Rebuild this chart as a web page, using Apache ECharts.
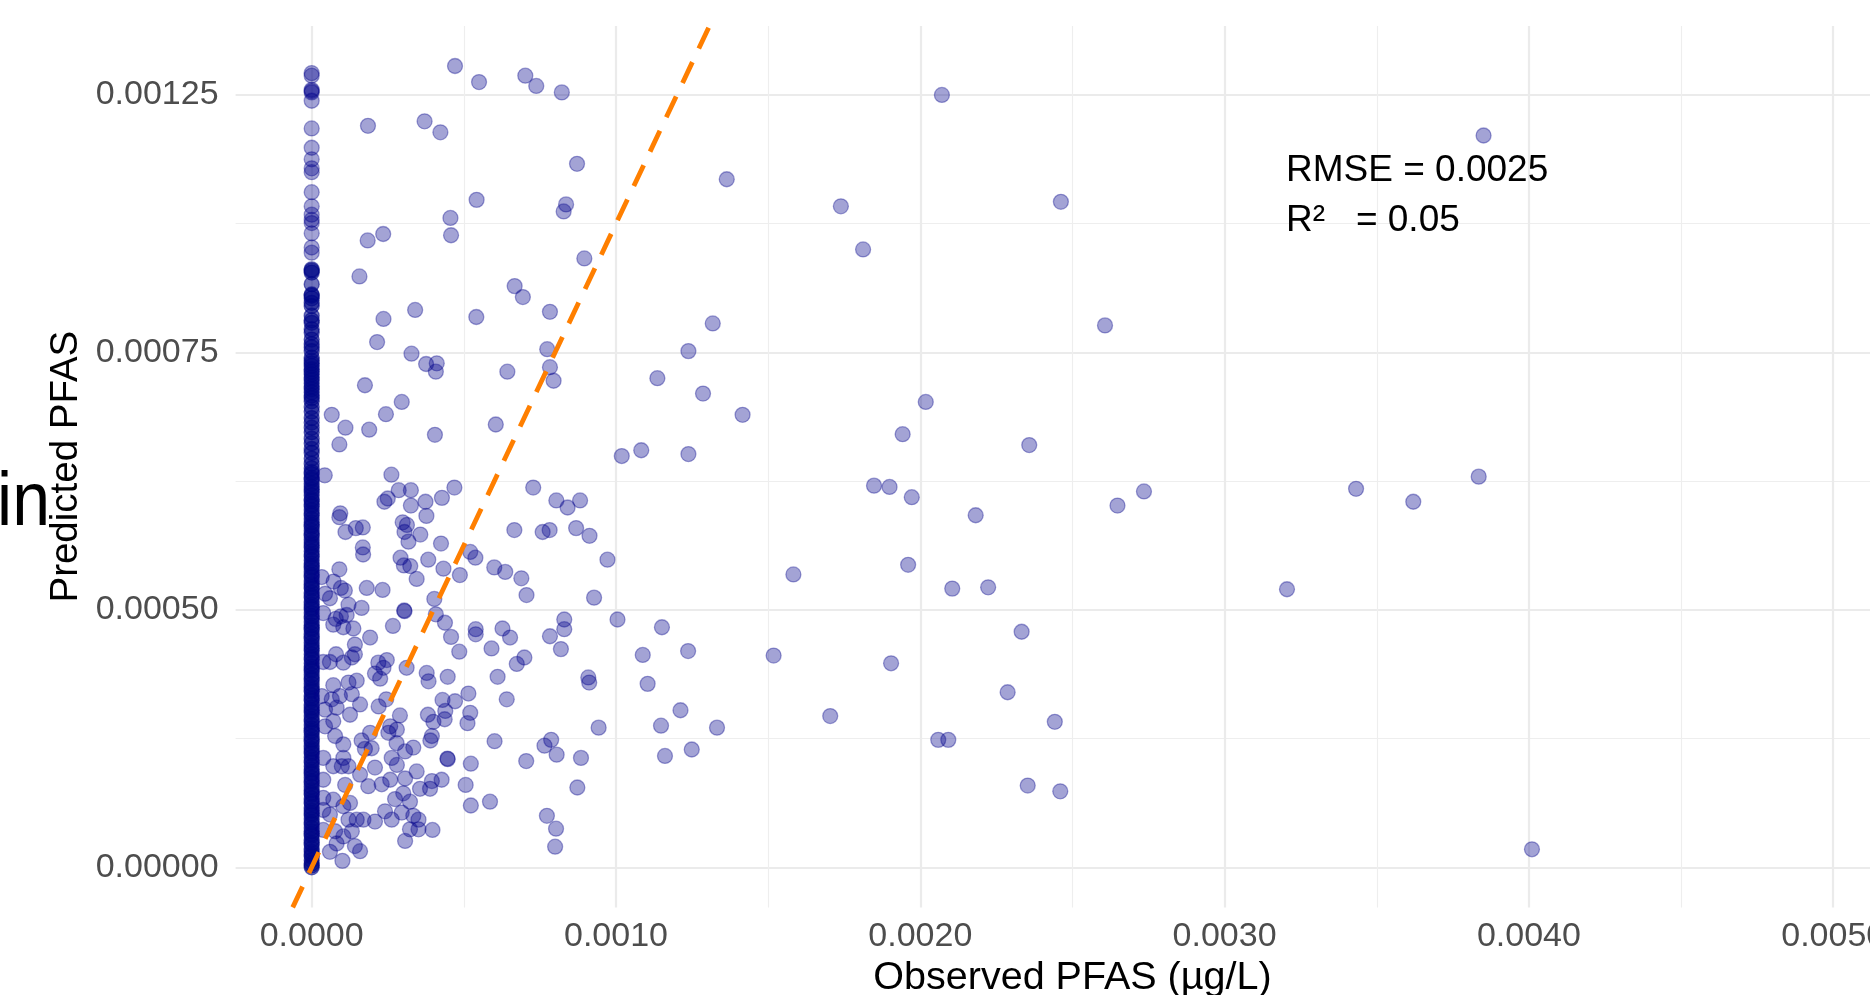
<!DOCTYPE html>
<html>
<head>
<meta charset="utf-8">
<script src="https://cdn.jsdelivr.net/npm/echarts@6/dist/echarts.min.js"></script>
<style>
  html, body { margin: 0; padding: 0; background: #fff; }
  #chart { width: 1870px; height: 995px; }
</style>
</head>
<body>
<div id="chart"></div>
<script>
// all PFAS values below are in units of 1e-4 ug/L
const UNIT = 1e-4;

// axis ticks
const xMajor = [0, 10, 20, 30, 40, 50];
const xMinor = [5, 15, 25, 35, 45];
const xTickLabels = ['0.0000', '0.0010', '0.0020', '0.0030', '0.0040', '0.0050'];
const yMajor = [0, 4, 8, 12];
const yMinor = [2, 6, 10];
const yTickLabels = ['0.00000', '0.00050', '0.00075', '0.00125'];

// predicted values for sites with observed = 0 (the column on the left)
const zeroObsPred = [
  12.34, 12.30, 12.08, 12.06, 12.04, 11.91, 11.48, 11.18, 11.00, 10.86, 10.80, 10.49,
  10.27, 10.14, 10.06, 10.01, 9.85, 9.63, 9.55, 9.29, 9.27, 9.24, 9.06, 8.90, 8.88,
  8.84, 8.77, 8.72, 8.57, 8.50, 8.46, 8.36, 8.31, 8.20, 8.13, 8.08, 8.02, 7.92, 7.87,
  7.83, 7.79, 7.74, 7.70, 7.66, 7.61, 7.57, 7.52, 7.47, 7.43, 7.38, 7.33, 7.29, 7.24,
  7.15, 7.08, 6.98, 6.91, 6.83, 6.76, 6.66, 6.59, 6.50, 6.44, 6.35, 6.27, 6.20,
  6.14, 6.11, 6.05, 6.02, 5.96, 5.91, 5.87, 5.83, 5.78, 5.72, 5.69, 5.64, 5.61, 5.55,
  5.50, 5.47, 5.41, 5.36, 5.32, 5.29, 5.23, 5.18, 5.15, 5.09, 5.04, 5.00, 4.97, 4.91,
  4.86, 4.83, 4.77, 4.72, 4.68, 4.65, 4.59, 4.54, 4.51, 4.45, 4.40, 4.36, 4.33, 4.27,
  4.22, 4.19, 4.13, 4.08, 4.04, 4.01, 3.95, 3.90, 3.87, 3.81, 3.76, 3.72, 3.69, 3.63,
  3.58, 3.55, 3.49, 3.44, 3.40, 3.37, 3.31, 3.26, 3.23, 3.17, 3.12, 3.08, 3.05, 2.99,
  2.94, 2.91, 2.85, 2.80, 2.76, 2.73, 2.67, 2.62, 2.59, 2.53, 2.48, 2.44, 2.41, 2.35,
  2.30, 2.27, 2.21, 2.16, 2.12, 2.09, 2.03, 1.98, 1.95, 1.89, 1.84, 1.80, 1.77, 1.71,
  1.66, 1.63, 1.57, 1.52, 1.48, 1.45, 1.39, 1.34, 1.31, 1.25, 1.20, 1.16, 1.13, 1.07,
  1.02, 0.99, 0.93, 0.88, 0.84, 0.81, 0.75, 0.70, 0.67, 0.61, 0.56, 0.52, 0.49, 0.43,
  0.38, 0.35, 0.29, 0.24, 0.20, 0.17, 0.11, 0.06, 0.03, 0.00
];

// [observed, predicted] for sites with observed > 0
const sitePoints = [
  [4.71, 12.45], [5.50, 12.20], [7.02, 12.30], [7.38, 12.14], [8.22, 12.04],
  [1.85, 11.52], [3.71, 11.59], [4.23, 11.42], [8.72, 10.93], [5.42, 10.37],
  [8.36, 10.30], [8.28, 10.19], [4.56, 10.09], [4.58, 9.82], [1.84, 9.74],
  [2.35, 9.84], [8.96, 9.46], [1.57, 9.18], [6.67, 9.03], [6.94, 8.86],
  [7.83, 8.63], [3.40, 8.66], [2.36, 8.52], [5.41, 8.55], [2.15, 8.16],
  [3.28, 7.98], [7.74, 8.05], [3.76, 7.82], [4.11, 7.83], [4.08, 7.70],
  [6.43, 7.70], [7.83, 7.77], [7.95, 7.56],
  [1.75, 7.49], [2.96, 7.23], [0.66, 7.03], [2.44, 7.04], [1.11, 6.83],
  [1.89, 6.80], [0.91, 6.57], [4.05, 6.72], [6.05, 6.88], [0.43, 6.09],
  [2.62, 6.10], [2.86, 5.86], [3.26, 5.86], [4.69, 5.90], [7.28, 5.90],
  [2.39, 5.68], [2.50, 5.73], [3.26, 5.62], [3.74, 5.68], [4.28, 5.74],
  [3.77, 5.46], [0.94, 5.50], [0.91, 5.44], [1.11, 5.21], [1.45, 5.27],
  [1.68, 5.28], [2.99, 5.36], [3.13, 5.32], [3.05, 5.21], [3.57, 5.17],
  [3.18, 5.06], [4.25, 5.03], [1.68, 4.97], [1.69, 4.86], [8.04, 5.70],
  [8.41, 5.59], [8.82, 5.70], [6.66, 5.24], [7.59, 5.21], [7.82, 5.24],
  [8.69, 5.27], [9.13, 5.15], [5.21, 4.90], [5.38, 4.81], [9.72, 4.78],
  [2.92, 4.81], [3.03, 4.69], [3.24, 4.68], [3.83, 4.78], [4.33, 4.64],
  [4.87, 4.54], [6.00, 4.66], [6.36, 4.59], [6.89, 4.49], [7.06, 4.23],
  [9.28, 4.19], [3.45, 4.48], [0.91, 4.63], [0.33, 4.51], [0.72, 4.44],
  [0.96, 4.34], [1.09, 4.30], [0.44, 4.25], [0.60, 4.18], [1.81, 4.34],
  [2.33, 4.31], [4.03, 4.17], [1.21, 4.08], [1.64, 4.03], [3.04, 3.99],
  [3.05, 3.98], [0.38, 3.95], [4.08, 3.93], [0.96, 3.90], [0.79, 3.86],
  [1.15, 3.92], [4.38, 3.80], [2.67, 3.75], [1.37, 3.71], [0.71, 3.77],
  [1.04, 3.73], [8.30, 3.85], [8.30, 3.70], [10.05, 3.85], [5.39, 3.70],
  [5.39, 3.62], [6.27, 3.71], [6.52, 3.57], [4.58, 3.58], [7.83, 3.59],
  [1.92, 3.57],
  [1.42, 3.46], [0.80, 3.31], [1.04, 3.18], [1.32, 3.26], [1.42, 3.31],
  [0.38, 3.19], [0.60, 3.19], [2.19, 3.18], [2.47, 3.22], [2.36, 3.10],
  [2.08, 3.01], [2.25, 2.93], [3.12, 3.10], [3.78, 3.02], [3.84, 2.89],
  [4.47, 2.96], [4.85, 3.35], [5.91, 3.40], [6.74, 3.16], [6.99, 3.26],
  [8.19, 3.39], [6.11, 2.96], [9.09, 2.95], [9.12, 2.87], [6.41, 2.61],
  [5.15, 2.70], [5.21, 2.40], [5.12, 2.24], [4.30, 2.60], [4.71, 2.58],
  [3.82, 2.37], [4.00, 2.26], [4.37, 2.30], [4.39, 2.43], [3.95, 2.04],
  [3.90, 1.97], [9.43, 2.17], [6.01, 1.96], [7.87, 1.98], [7.65, 1.89],
  [8.05, 1.75], [8.85, 1.70], [7.05, 1.65], [4.46, 1.69], [4.47, 1.68],
  [5.23, 1.61], [5.06, 1.28], [8.73, 1.24], [5.86, 1.02], [5.23, 0.96],
  [7.73, 0.80], [8.03, 0.60], [8.00, 0.32],
  [0.71, 2.83], [1.21, 2.87], [1.48, 2.90], [0.33, 2.66], [0.66, 2.61],
  [0.93, 2.66], [1.32, 2.69], [1.59, 2.53], [0.44, 2.45], [0.82, 2.48],
  [1.26, 2.37], [2.20, 2.50], [2.45, 2.61], [2.90, 2.36], [2.58, 2.19],
  [2.80, 2.14], [2.52, 2.09], [0.44, 2.19], [0.71, 2.27], [0.77, 2.04],
  [1.04, 1.91], [1.92, 2.09], [1.64, 1.97], [1.75, 1.84], [1.97, 1.85],
  [2.79, 1.93], [3.07, 1.80], [3.34, 1.86], [2.63, 1.70], [2.80, 1.59],
  [0.38, 1.70], [1.04, 1.70], [0.71, 1.57], [0.99, 1.57], [1.21, 1.57],
  [1.59, 1.44], [2.08, 1.55], [1.86, 1.26], [2.30, 1.29], [0.38, 1.36],
  [1.10, 1.28], [2.58, 1.36], [3.07, 1.38], [3.45, 1.49], [3.56, 1.22],
  [3.89, 1.22], [3.95, 1.34], [4.27, 1.36], [3.01, 1.15], [2.74, 1.06],
  [3.23, 1.02], [0.38, 1.08], [0.71, 1.05], [1.04, 0.95], [1.26, 1.00],
  [0.38, 0.89], [0.60, 0.82], [1.21, 0.74], [1.48, 0.74], [1.70, 0.74],
  [2.08, 0.71], [2.41, 0.87], [2.63, 0.74], [2.96, 0.85], [3.34, 0.80],
  [3.51, 0.74], [3.23, 0.59], [3.51, 0.59], [3.97, 0.58], [3.07, 0.41],
  [0.38, 0.58], [0.77, 0.56], [1.04, 0.48], [0.82, 0.37], [1.32, 0.56],
  [1.42, 0.33], [1.59, 0.25], [0.60, 0.24], [1.01, 0.10],
  [20.71, 12.00], [13.64, 10.69], [17.39, 10.27], [18.12, 9.60], [13.18, 8.45],
  [12.38, 8.02], [11.36, 7.60], [12.86, 7.36], [14.16, 7.03], [20.18, 7.23],
  [19.42, 6.73], [23.58, 6.56], [10.19, 6.39], [10.83, 6.48], [12.38, 6.42],
  [18.48, 5.93], [18.99, 5.91], [19.72, 5.75], [21.82, 5.47], [15.83, 4.55],
  [19.60, 4.70], [21.05, 4.33], [22.23, 4.35], [11.51, 3.73], [10.88, 3.30],
  [12.37, 3.36], [15.18, 3.29], [19.04, 3.17], [23.33, 3.66], [11.04, 2.85],
  [12.12, 2.44], [11.48, 2.20], [13.32, 2.17], [17.04, 2.35], [22.87, 2.72],
  [11.61, 1.73], [12.49, 1.83], [20.59, 1.98], [20.92, 1.98], [23.53, 1.27],
  [24.62, 10.34], [26.07, 8.42], [26.48, 5.62], [27.35, 5.84], [34.32, 5.88],
  [36.20, 5.68], [38.35, 6.07], [32.05, 4.32], [38.51, 11.37], [24.42, 2.26],
  [24.60, 1.18], [40.10, 0.28]
];

const statLines = ['RMSE = 0.0025', 'R\u00B2   = 0.05'];

// panel limits (ggplot-style 5% expansion)
const X_MIN = -2.5 * UNIT, X_MAX = 52.5 * UNIT;
const Y_MIN = -0.623 * UNIT, Y_MAX = 13.073 * UNIT;

const FONT = '"Liberation Sans", Arial, Helvetica, sans-serif';

// the many zero-observation sites are stacked on top of each other,
// so that column is split by density: the packed part is drawn darker
const DENSE_LIMIT = 9.3;
const columnSparse = zeroObsPred.filter(v => v > DENSE_LIMIT).map(v => [0, v * UNIT]);
const columnDense = zeroObsPred.filter(v => v <= DENSE_LIMIT).map(v => [0, v * UNIT]);
const siteData = sitePoints.map(p => [p[0] * UNIT, p[1] * UNIT]);

function nearestLabel(ticks, labels, v) {
  let best = 0;
  ticks.forEach((t, i) => {
    if (Math.abs(t * UNIT - v) < Math.abs(ticks[best] * UNIT - v)) best = i;
  });
  return labels[best];
}

const majorGrid = { show: true, lineStyle: { color: '#EBEBEB', width: 2.2 } };
const minorGrid = { show: true, lineStyle: { color: '#EEEEEE', width: 1.2 } };

const pointStyle = {
  color: 'rgba(0, 0, 139, 0.45)',
  borderColor: 'rgba(0, 0, 139, 0.45)',
  borderWidth: 1.3
};

const chart = echarts.init(document.getElementById('chart'));
chart.setOption({
  animation: false,
  backgroundColor: '#fff',
  grid: {
    left: 235.6, top: 25.9, width: 1673.7, height: 881.5,
    containLabel: false, outerBoundsMode: 'none'
  },
  xAxis: [
    {
      type: 'value', min: X_MIN, max: X_MAX,
      axisLine: { show: false },
      axisTick: { show: false, customValues: xMajor.map(v => v * UNIT) },
      axisLabel: {
        customValues: xMajor.map(v => v * UNIT),
        formatter: v => nearestLabel(xMajor, xTickLabels, v),
        color: '#4D4D4D', fontSize: 34, fontFamily: FONT, margin: 12
      },
      splitLine: majorGrid,
      name: 'Observed PFAS (\u00B5g/L)', nameLocation: 'middle', nameGap: 51,
      nameMoveOverlap: false,
      nameTextStyle: { color: '#000', fontSize: 39.5, fontFamily: FONT }
    },
    {
      type: 'value', min: X_MIN, max: X_MAX, position: 'bottom',
      axisLine: { show: false },
      axisTick: { show: false, customValues: xMinor.map(v => v * UNIT) },
      axisLabel: { show: false },
      splitLine: minorGrid
    }
  ],
  yAxis: [
    {
      type: 'value', min: Y_MIN, max: Y_MAX,
      axisLine: { show: false },
      axisTick: { show: false, customValues: yMajor.map(v => v * UNIT) },
      axisLabel: {
        customValues: yMajor.map(v => v * UNIT),
        formatter: v => nearestLabel(yMajor, yTickLabels, v),
        color: '#4D4D4D', fontSize: 34, fontFamily: FONT, margin: 17
      },
      splitLine: majorGrid,
      name: 'Predicted PFAS', nameLocation: 'middle', nameGap: 150,
      nameMoveOverlap: false,
      nameTextStyle: { color: '#000', fontSize: 38.5, fontFamily: FONT }
    },
    {
      type: 'value', min: Y_MIN, max: Y_MAX, position: 'left',
      axisLine: { show: false },
      axisTick: { show: false, customValues: yMinor.map(v => v * UNIT) },
      axisLabel: { show: false },
      splitLine: minorGrid
    }
  ],
  series: [
    {
      type: 'scatter', data: columnDense, symbolSize: 15, clip: false,
      itemStyle: {
        color: 'rgba(0, 8, 135, 0.7)',
        borderColor: 'rgba(0, 8, 135, 0.7)',
        borderWidth: 1.3
      },
      z: 3
    },
    {
      type: 'scatter', data: columnSparse, symbolSize: 15, clip: false,
      itemStyle: pointStyle, z: 3
    },
    {
      type: 'scatter', data: siteData, symbolSize: 15, clip: false,
      itemStyle: pointStyle, z: 3
    },
    {
      // 1:1 reference line across the panel
      type: 'line',
      data: [[Y_MIN, Y_MIN], [Y_MAX, Y_MAX]],
      symbol: 'none',
      lineStyle: { color: '#FF7F00', width: 4.8, type: [23, 15] },
      z: 4
    }
  ],
  graphic: [
    {
      type: 'text', x: 1286, y: 170.5, z: 100,
      style: { text: statLines[0], fontSize: 37, fontFamily: FONT, fill: '#000',
               textAlign: 'left', textVerticalAlign: 'middle' }
    },
    {
      type: 'text', x: 1286, y: 220.5, z: 100,
      style: { text: statLines[1], fontSize: 37, fontFamily: FONT, fill: '#000',
               textAlign: 'left', textVerticalAlign: 'middle' }
    },
    {
      // clipped fragment of a neighbouring label at the left edge
      type: 'text', x: 50, y: 504, scaleY: 1.12, z: 100,
      style: { text: 'in', fontSize: 68, fontFamily: FONT, fill: '#000',
               textAlign: 'right', textVerticalAlign: 'middle' }
    }
  ]
});
</script>
</body>
</html>
